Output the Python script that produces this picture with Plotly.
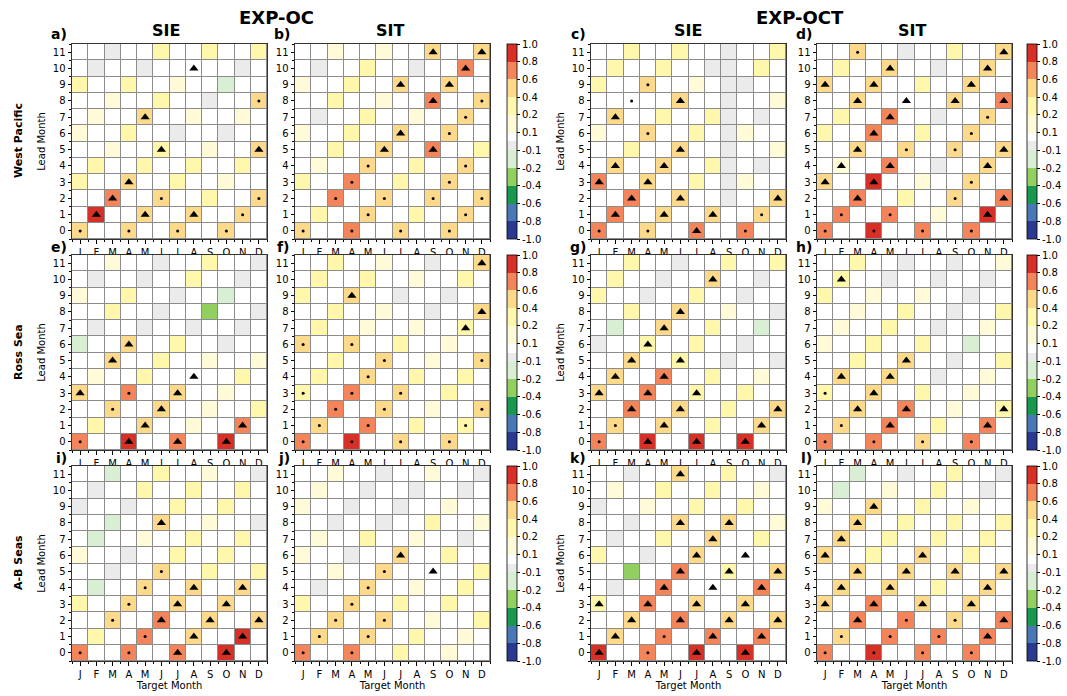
import numpy as np
import plotly.graph_objects as go

MONTHS = ["J", "F", "M", "A", "M", "J", "J", "A", "S", "O", "N", "D"]
LEADS = list(range(12))
LEVELS = [-1.0, -0.8, -0.6, -0.4, -0.2, -0.1, 0.1, 0.2, 0.4, 0.6, 0.8, 1.0]
LEVEL_LABELS = ["-1.0", "-0.8", "-0.6", "-0.4", "-0.2", "-0.1", "0.1", "0.2", "0.4", "0.6", "0.8", "1.0"]
BIN_COLORS = ["#2b3990", "#4a77b6", "#1a9850", "#91cf60", "#d9efd3", ("#ebebeb", "#ffffff"),
              "#fffbd9", "#fff7ab", "#fdd98b", "#f4845a", "#d73027"]

# estimated correlation per colour class
CODE_VALUE = {"R": 0.9, "O": 0.7, "o": 0.5, "y": 0.3, "p": 0.15, "w": 0.05,
              "g": -0.05, "e": -0.15, "G": -0.3}

# rows: lead 11 (top) ... lead 0 (bottom); columns J..D
A_VAL = ["wwgwwywwywwy", "wgwwgwwwwwgw", "ywwywwpwweww", "wwpwwywwgwwo", "wpwwowwpwwpw", "pwwywwgwwgww",
         "wwpwwywwpwwo", "wywwywwywwyw", "ywwowwywwpww", "wwOwwowwywwo", "wRwwowwowwow", "owwowwowwoww"]
A_SIG = ["------------", "-------^----", "------------", "-----------.", "----^-------", "------------",
         "-----^-----^", "------------", "---^--------", "--^--.-----.", "-^--^--^--.-", ".--.--.--.--"]
B_VAL = ["wwpwwpwwowwo", "wgwwywwgwwOw", "pwwywwowwoww", "wwywwpwwOwwo", "wgwwywwpwwow", "pwwywwowwoww",
         "wwywwowwOwwy", "wpwwowwywwow", "ywwOwwywwoww", "wwOwwowwowwo", "wywwowwywwow", "owwOwwowwoww"]
B_SIG = ["--------^--^", "----------^-", "------^--^--", "--------^--.", "----------.-", "------^--.--",
         "-----^--^---", "----.-----.-", "---.-----.--", "--.--.--.--.", "----.-----.-", ".--.--.--.--"]
C_VAL = ["wwywwywwgwwy", "wywwywwggwyw", "ywwowwpwggww", "wwwwwowwgwwp", "wowwywwygwgw", "pwwowwywgpww",
         "wwywwowwgwwp", "wowwowwygwgw", "Owwowwywgpww", "wwOwwowwgwwo", "wOwwowwowwow", "OwwowwOwwOww"]
C_SIG = ["------------", "------------", "---.--------", "--.--^------", "-^----------", "---.--------",
         "-----^------", "-^--^-------", "^--^--------", "--^--^-----^", "-^--^--^--.-", ".--.--^--.--"]
D_VAL = ["wwowwgwwywwo", "wywwowwgwwow", "owwowwywwoww", "wwowwwwwowwO", "wywwOwwgwwow", "ywwOwwywwoww",
         "wwowwowwowwo", "wpwwOwwgwwow", "owwRwwpwwoww", "wwOwwywwowwO", "wOwwOwwpwwRw", "OwwRwwOwwOww"]
D_SIG = ["--.--------^", "----^-----^-", "^--^-----^--", "--^--^--^--^", "----^-----.-", "---^-----.--",
         "--^--.--.--^", "-^--^-----^-", "^--^-----.--", "--^-----.--^", "-.--.-----^-", ".--.--.--.--"]
E_VAL = ["wwpwwgwwywwg", "wgwwgwwywwgw", "pwwywwgwweww", "wwywwgwwGwwg", "wgwwgwwgwwgw", "ewwowwywwgww",
         "wwowwywwpwwp", "wpwwywwwwwyw", "owwOwwowwpww", "wwowwowwpwwy", "wywwowwpwwOw", "OwwRwwOwwRww"]
E_SIG = ["------------", "------------", "------------", "------------", "------------", "---^--------",
         "--^---------", "-------^----", "^--.--^-----", "--.--^------", "----^-----^-", ".--^--^--^--"]
F_VAL = ["wwywwpwwgwwo", "wywwywwpwwyw", "ywwowwgwwgww", "wwywwpwwgwwo", "wywwpwwpwwyw", "owwowwywwpww",
         "wwywwowwpwwo", "wywwowwywwyw", "ywwOwwowwyww", "wwOwwowwpwwo", "wowwOwwywwyw", "OwwRwwowwoww"]
F_SIG = ["-----------^", "------------", "---^--------", "-----------^", "----------^-", ".--.--------",
         "-----.-----.", "----.-------", ".--.--.-----", "--.--.-----.", "-.--.-----.-", ".--.--.--.--"]
G_VAL = ["wwywwgwwywwy", "wywwgwwowwgw", "ywwgwwywwgww", "wwywwowwpwwg", "wewwowwywwew", "gwwywwywwgww",
         "wwowwywwgwwg", "wowwOwwywwpw", "owwOwwywwyww", "wwOwwowwywwo", "wowwowwywwow", "OwwRwwRwwRww"]
G_SIG = ["------------", "-------^----", "------------", "-----^------", "----^-------", "---^--------",
         "--^--^------", "-^--^-------", "^--^--^-----", "--^--^-----^", "-.--^-----^-", ".--^--^--^--"]
H_VAL = ["wwywwgwwgwwp", "wywwgwwgwwgw", "ywwpwwpwwgww", "wwpwwywwgwwy", "wpwwywwgwwpw", "pwwywwywweww",
         "wwywwowwgwwy", "wowwowwgwwpw", "ywwowwywwpww", "wwowwOwwpwwy", "wowwOwwywwOw", "OwwOwwowwOww"]
H_SIG = ["------------", "-^----------", "------------", "------------", "------------", "------------",
         "-----^------", "-^--^-------", ".--^--------", "--^--^-----^", "-.--^-----^-", ".--.--.--.--"]
I_VAL = ["wwewwywwpwwg", "wgwwywwywwyw", "gwwgwwywwyww", "wwewwowwpwwg", "wewwpwwywwyw", "pwwgwwywwyww",
         "wwgwwowwywwy", "wewwowwowwow", "ywwowwowwoww", "wwowwOwwowwo", "wywwOwwowwRw", "OwwOwwOwwRww"]
I_SIG = ["------------", "------------", "------------", "-----^------", "------------", "------------",
         "-----.------", "----.--^--^-", "---.--^--^--", "--.--^--^--^", "----.--^--^-", ".--.--^--^--"]
J_VAL = ["wwpwwgwwpwwg", "wpwwgwwgwwgw", "pwwgwwgwwpww", "wwgwwgwwywwp", "wpwwywwpwwgw", "pwwgwwowwyww",
         "wwpwwowwwwwy", "wgwwowwpwwyw", "ywwowwywwyww", "wwowwowwpwwy", "wowwowwywwpw", "OwwOwwywwpww"]
J_SIG = ["------------", "------------", "------------", "------------", "------------", "------^-----",
         "-----.--^---", "----.-------", "---.--------", "--.--.------", "-.--.-------", ".--.--------"]
K_VAL = ["wwgwwowwywwg", "wpwwywwywwpw", "gwwpwwywwyww", "wwgwwowwowwp", "wgwwywwowwyw", "ywwgwwowwwww",
         "wwGwwOwwywwo", "wgwwOwwwwwOw", "ywwOwwowwoww", "wwowwOwwowwo", "wowwOwwOwwOw", "RwwOwwRwwRww"]
K_SIG = ["-----^------", "------------", "------------", "-----^--^---", "-------^----", "------^--^--",
         "-----^--^--^", "----^--^--^-", "^--^--^--^--", "--^--^--^--^", "-^--.--^--^-", "^--.--^--^--"]
L_VAL = ["wwewwgwwywwg", "wewwpwwywwgw", "pwwowwywwpww", "wwowwywwywwy", "wowwywwywwyw", "owwywwowwyww",
         "wwowwowwowwo", "wowwowwywwow", "owwOwwowwoww", "wwOwwOwwowwO", "wowwOwwOwwOw", "OwwRwwOwwOww"]
L_SIG = ["------------", "------------", "---^--------", "--^---------", "-^----------", "^-----^-----",
         "--^--^--^--^", "-^--^-----^-", "^--^--^--^--", "--^--.--.--^", "-.--.--.--^-", ".--.--.--.--"]

PANELS = [  # (label, values, significance, row, col)
    ("a)", A_VAL, A_SIG, 0, 0), ("b)", B_VAL, B_SIG, 0, 1), ("c)", C_VAL, C_SIG, 0, 2), ("d)", D_VAL, D_SIG, 0, 3),
    ("e)", E_VAL, E_SIG, 1, 0), ("f)", F_VAL, F_SIG, 1, 1), ("g)", G_VAL, G_SIG, 1, 2), ("h)", H_VAL, H_SIG, 1, 3),
    ("i)", I_VAL, I_SIG, 2, 0), ("j)", J_VAL, J_SIG, 2, 1), ("k)", K_VAL, K_SIG, 2, 2), ("l)", L_VAL, L_SIG, 2, 3),
]

W, H = 1067, 696
COL_X = [(72, 267), (295, 490), (591, 786), (817, 1012)]
ROW_Y = [(44, 239), (255, 450), (466, 661)]
CBAR_X = [507, 1027]
FONT = "DejaVu Sans"

nb = len(BIN_COLORS)
colorscale = []
for i, c in enumerate(BIN_COLORS):
    if isinstance(c, tuple):
        colorscale += [[i / nb, c[0]], [(i + 0.5) / nb, c[0]], [(i + 0.5) / nb, c[1]], [(i + 1) / nb, c[1]]]
    else:
        colorscale += [[i / nb, c], [(i + 1) / nb, c]]

fig = go.Figure()
layout_axes = {}

for k, (lab, val, sig, r, c) in enumerate(PANELS):
    idx = k + 1
    xa = "x" if idx == 1 else f"x{idx}"
    ya = "y" if idx == 1 else f"y{idx}"
    values = np.array([[CODE_VALUE[ch] for ch in row] for row in val[::-1]])
    zpos = np.interp(values, LEVELS, np.arange(len(LEVELS)))
    show = c in (1, 3)
    cb = dict(
        x=CBAR_X[c // 2] / W, xanchor="left", xpad=0,
        y=1 - (ROW_Y[r][0] + ROW_Y[r][1]) / 2 / H, yanchor="middle", ypad=0,
        len=(ROW_Y[r][1] - ROW_Y[r][0]) / H, lenmode="fraction",
        thickness=10, thicknessmode="pixels",
        tickmode="array", tickvals=list(range(nb + 1)), ticktext=LEVEL_LABELS,
        ticks="outside", ticklen=3, tickcolor="black",
        tickfont=dict(family=FONT, size=10, color="black"),
        outlinewidth=0.8, outlinecolor="black",
    )
    fig.add_trace(go.Heatmap(
        z=zpos, x=list(range(12)), y=LEADS, customdata=values,
        zmin=0, zmax=nb, colorscale=colorscale, showscale=show, colorbar=cb,
        xgap=1, ygap=1, xaxis=xa, yaxis=ya,
        hovertemplate="r=%{customdata:.2f}<extra></extra>",
    ))
    for sym, code, size in (("triangle-up", "^", 8), ("circle", ".", 3)):
        xs, ys = [], []
        for li, row in enumerate(sig[::-1]):
            for mi, ch in enumerate(row):
                if ch == code:
                    xs.append(mi)
                    ys.append(li)
        if xs:
            fig.add_trace(go.Scatter(
                x=xs, y=ys, mode="markers", xaxis=xa, yaxis=ya, showlegend=False,
                marker=dict(symbol=sym, size=size, color="black", line=dict(width=0)),
                hoverinfo="skip",
            ))
    x0, x1 = COL_X[c]
    y0, y1 = ROW_Y[r]
    axis_common = dict(
        range=[-0.5, 11.5], showgrid=False, zeroline=False,
        showline=True, mirror=True, linecolor="#333333", linewidth=1,
        ticks="outside", ticklen=3.5, tickcolor="black", tickwidth=0.8,
        tickfont=dict(family=FONT, size=10, color="black"), fixedrange=True,
        minor=dict(tickvals=[i - 0.5 for i in range(13)], ticks="outside", ticklen=2, tickcolor="black"),
    )
    layout_axes[("xaxis" if idx == 1 else f"xaxis{idx}")] = dict(
        axis_common, domain=[x0 / W, x1 / W], anchor=ya,
        tickmode="array", tickvals=list(range(12)), ticktext=MONTHS,
        title=dict(text="Target Month", font=dict(family=FONT, size=10, color="black"), standoff=2) if r == 2 else None,
    )
    layout_axes[("yaxis" if idx == 1 else f"yaxis{idx}")] = dict(
        axis_common, domain=[1 - y1 / H, 1 - y0 / H], anchor=xa,
        tickmode="array", tickvals=LEADS, ticktext=[str(v) for v in LEADS],
        title=dict(text="Lead Month", font=dict(family=FONT, size=10, color="black"), standoff=5) if c in (0, 2) else None,
    )

annotations = []
def add_text(text, x, y, size, bold=True, angle=0, xanchor="center"):
    annotations.append(dict(
        text=f"<b>{text}</b>" if bold else text, x=x / W, y=1 - y / H, xref="paper", yref="paper",
        showarrow=False, textangle=angle, xanchor=xanchor, yanchor="middle",
        font=dict(family=FONT, size=size, color="black"),
    ))

add_text("EXP-OC", 276, 17, 18)
add_text("EXP-OCT", 800, 17, 18)
for title, xc in (("SIE", 166), ("SIT", 390), ("SIE", 688), ("SIT", 912)):
    add_text(title, xc, 30, 16)
LABEL_Y = [34, 247, 458]
for lab, val, sig, r, c in PANELS:
    add_text(lab, COL_X[c][0] - 3, LABEL_Y[r], 14, xanchor="right")
for name, yc in (("West Pacific", 141), ("Ross Sea", 352), ("A-B Seas", 563)):
    add_text(name, 18, yc, 11, angle=-90)

fig.update_layout(
    width=W, height=H, margin=dict(l=0, r=0, t=0, b=0, autoexpand=False),
    paper_bgcolor="white", plot_bgcolor="#8c8c8c",
    showlegend=False, annotations=annotations, **layout_axes,
)
fig.write_html("out.html", config={"displayModeBar": False},
               post_script="document.body.style.margin='0px';")
